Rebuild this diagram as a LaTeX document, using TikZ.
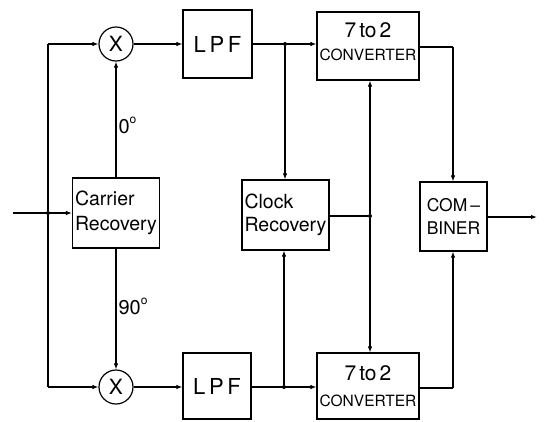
\documentclass[tikz,border=0pt]{standalone}
\usepackage{fontspec}
\setmainfont{TeX Gyre Heros}
\usetikzlibrary{arrows.meta,calc}
\tikzset{
  blk/.style={draw, line width=1.2pt, inner sep=0pt, align=center},
  mult/.style={draw, circle, line width=1.2pt, minimum size=34pt, inner sep=0pt, font=\fontsize{21}{21}\selectfont},
  conn/.style={line width=1.1pt},
  arr/.style={conn, -{Latex[length=6pt,width=4.5pt]}},
  dot/.style={circle, fill, inner sep=0pt, minimum size=4pt},
  lbl/.style={font=\fontsize{20}{20}\selectfont, inner sep=0pt, anchor=west},
  big/.style={font=\fontsize{21}{21}\selectfont, inner sep=0pt, anchor=base},
  small/.style={font=\fontsize{15.5}{16}\selectfont, inner sep=0pt, anchor=base}
}
\begin{document}
\begin{tikzpicture}[x=1pt,y=-1pt]
\useasboundingbox (0,0) rectangle (545,421);
% multipliers
\node[mult] (m1) at (116,44) {X};
\node[mult] (m2) at (116,387) {X};
% LPFs
\node[blk, minimum width=69pt, minimum height=68pt, font=\fontsize{22}{22}\selectfont] (lpf1) at (217.5,44) {L\,P\,F};
\node[blk, minimum width=68pt, minimum height=66pt, font=\fontsize{22}{22}\selectfont] (lpf2) at (217,386) {L\,P\,F};
% carrier recovery
\node[blk, minimum width=87pt, minimum height=70pt, align=left, font=\fontsize{19.5}{25}\selectfont] (cr) at (116,213) {Carrier\\Recovery};
% clock recovery
\node[blk, minimum width=87pt, minimum height=70pt, align=left, font=\fontsize{19.5}{23}\selectfont] (clk) at (285.5,215) {Clock\\Recovery};
% converters
\node[blk, minimum width=102pt, minimum height=68pt] (conv1) at (368,46) {};
\node[big] (t1a) at (368,37) {7\hspace{3pt}to\hspace{3pt}2};
\node[small] (t1b) at (368,60) {CONVERTER};
\node[blk, minimum width=102pt, minimum height=66pt] (conv2) at (368,386) {};
\node[big] (t2a) at (368,380) {7\hspace{3pt}to\hspace{3pt}2};
\node[small] (t2b) at (368,406) {CONVERTER};
% combiner
\node[blk, minimum width=67pt, minimum height=69pt, font=\fontsize{17.5}{23}\selectfont, align=left] (comb) at (453.5,216.5) {COM\,--\\BINER};
% coordinates
\coordinate (in) at (13,213);
\coordinate (out) at (537,217);
\node[dot] (d1) at (48,213) {};
\node[dot] (d2) at (285,44) {};
\node[dot] (d3) at (284,387) {};
\node[dot] (d4) at (370,216) {};
\coordinate (c1) at (453,47);
\coordinate (c2) at (453,388);
% input
\draw[arr] (in) -- (cr.west |- in);
\draw[conn] (d1) -- (48,44);
\draw[arr] (48,44) -- (m1.west);
\draw[conn] (d1) -- (48,387);
\draw[arr] (48,387) -- (m2.west);
% carrier to multipliers
\draw[arr] (cr.north -| m1) -- (m1.south) node[lbl, pos=0.45, xshift=2pt] (l0) {0\raisebox{0.5em}{\fontsize{12}{12}\selectfont o}};
\draw[arr] (cr.south -| m2) -- (m2.north) node[lbl, pos=0.48, xshift=2pt] (l90) {90\raisebox{0.5em}{\fontsize{12}{12}\selectfont o}};
% multipliers to LPF
\draw[arr] (m1.east) -- (lpf1.west |- m1.east);
\draw[arr] (m2.east) -- (lpf2.west |- m2.east);
% LPF to converters
\draw[arr] (lpf1.east |- d2) -- (conv1.west |- d2);
\draw[arr] (lpf2.east |- d3) -- (conv2.west |- d3);
% to clock recovery
\draw[arr] (d2) -- (clk.north -| d2);
\draw[arr] (d3) -- (clk.south -| d3);
% clock to converters
\draw[conn] (clk.east |- d4) -- (d4);
\draw[arr] (d4) -- (conv1.south -| d4);
\draw[arr] (d4) -- (conv2.north -| d4);
% converters to combiner
\draw[conn] (conv1.east |- c1) -- (c1);
\draw[arr] (c1) -- (comb.north -| c1);
\draw[conn] (conv2.east |- c2) -- (c2);
\draw[arr] (c2) -- (comb.south -| c2);
% output
\draw[arr] (comb.east |- out) -- (out);
\end{tikzpicture}
\end{document}
